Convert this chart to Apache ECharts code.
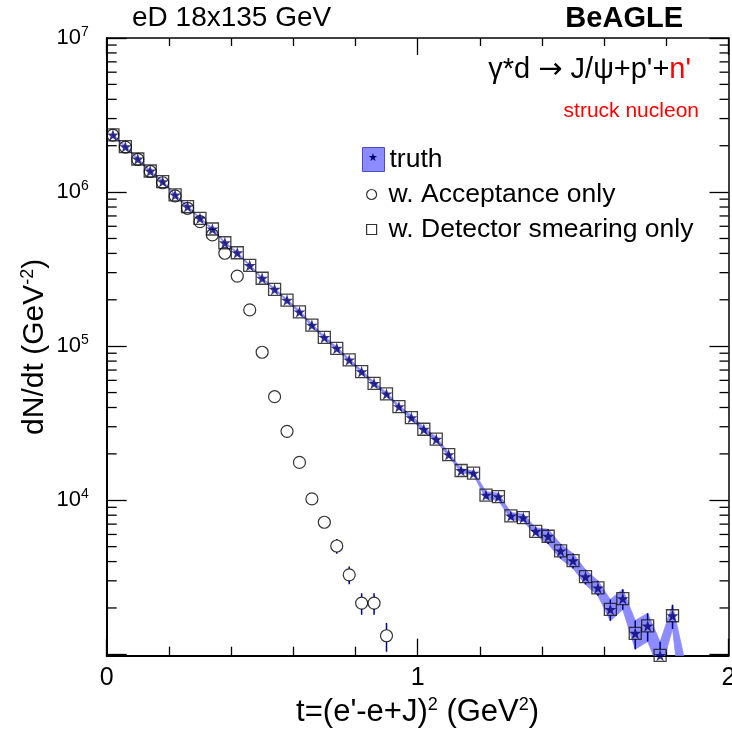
<!DOCTYPE html>
<html>
<head>
<meta charset="utf-8">
<script src="https://cdn.jsdelivr.net/npm/echarts@6/dist/echarts.min.js"></script>
<style>
html,body{margin:0;padding:0;background:#fff;overflow:hidden;}
#c{width:732px;height:734px;}
</style>
</head>
<body>
<div id="c"></div>
<script>
// ---- data ----
const tCenters = [0.02,0.06,0.10,0.14,0.18,0.22,0.26,0.30,0.34,0.38,0.42,0.46,0.50,0.54,0.58,0.62,0.66,0.70,0.74,0.78,0.82,0.86,0.90,0.94,0.98,1.02,1.06,1.10,1.14,1.18,1.22,1.26,1.30,1.34,1.38,1.42,1.46,1.50,1.54,1.58,1.62,1.66,1.70,1.74,1.78,1.82,1.86];
const truthVals = [2.35e6,1.97e6,1.64e6,1.37e6,1.17e6,9.58e5,8.04e5,6.76e5,5.76e5,4.69e5,4.04e5,3.34e5,2.76e5,2.34e5,1.99e5,1.67e5,1.37e5,1.14e5,9.69e4,8.14e4,6.83e4,5.74e4,4.90e4,4.05e4,3.44e4,2.89e4,2.49e4,1.98e4,1.56e4,1.50e4,1.08e4,1.055e4,7.91e3,7.71e3,6.29e3,5.84e3,4.69e3,4.06e3,3.19e3,2.70e3,1.96e3,2.30e3,1.37e3,1.53e3,985,1.78e3,600];
const truthErr = [28000,24000,20000,16000,14000,11500,9600,8100,6900,5600,4800,4000,3300,2800,2400,3300,2700,2300,1900,1600,1400,1150,980,810,1030,870,750,590,470,450,570,560,420,410,330,640,520,450,350,300,310,350,290,320,220,320,300];
const smearVals = [2.35e6,1.97e6,1.64e6,1.37e6,1.17e6,9.58e5,8.04e5,6.76e5,5.76e5,4.69e5,4.04e5,3.34e5,2.76e5,2.34e5,1.99e5,1.67e5,1.37e5,1.14e5,9.69e4,8.14e4,6.83e4,5.74e4,4.90e4,4.05e4,3.44e4,2.89e4,2.49e4,1.98e4,1.56e4,1.50e4,1.08e4,1.055e4,7.91e3,7.71e3,6.29e3,5.84e3,4.69e3,4.06e3,3.19e3,2.70e3,1.96e3,2.30e3,1.37e3,1.53e3,985,1.78e3,600];
const accVals = [2.34e6,1.96e6,1.63e6,1.36e6,1.15e6,9.45e5,7.85e5,6.43e5,5.27e5,4.01e5,2.85e5,1.72e5,9.13e4,4.70e4,2.80e4,1.76e4,1.02e4,7.20e3,5.05e3,3.28e3,2.15e3,2.15e3,1.32e3];
const accErr = [28000,24000,20000,16000,14000,11000,9400,7700,6300,4800,3400,2600,1800,1200,900,700,500,400,550,430,340,340,280];
const xTickLabels = ['0','1','2'];
const yDecadeExps = [4,5,6,7];
const yMinorMult = [2,3,4,5,6,7,8,9];
const yMinorDecades = [1e3,1e4,1e5,1e6];
const legendNames = ['truth','w. Acceptance only','w. Detector smearing only'];

const yMin = 980, yMax = 1e7;
const FONT = '"Liberation Sans", Arial, Helvetica, sans-serif';
const BAND = 'rgb(140,140,255)';
const NAVY = '#000070';
const STAR = 'path://M0,-1L0.2245,-0.309L0.951,-0.309L0.363,0.118L0.588,0.809L0,0.382L-0.588,0.809L-0.363,0.118L-0.951,-0.309L-0.2245,-0.309Z';

const truthData = tCenters.map((t,i)=>[t,truthVals[i]]);
const smearData = tCenters.map((t,i)=>[t,smearVals[i]]);
const accData = accVals.map((v,i)=>[tCenters[i],v]);
const minorTicks = [];
yMinorDecades.forEach(d=>yMinorMult.forEach(m=>minorTicks.push(d*m)));

function errBarRender(vals, errs, gap){
  return function(params, api){
    const i = params.dataIndex;
    const t = tCenters[i], v = vals[i], e = errs[i];
    const c = api.coord([t, v]);
    const hi = api.coord([t, v + e]);
    const lo = api.coord([t, Math.max(v - e, 1)]);
    const children = [];
    if (c[1] - gap > hi[1]) children.push({type:'line', shape:{x1:c[0],y1:hi[1],x2:c[0],y2:c[1]-gap}, style:{stroke:'#00008b', lineWidth:1.5}});
    if (lo[1] > c[1] + gap) children.push({type:'line', shape:{x1:c[0],y1:c[1]+gap,x2:c[0],y2:lo[1]}, style:{stroke:'#00008b', lineWidth:1.5}});
    return {type:'group', children};
  };
}

const sup = {fontSize:18, fontFamily:FONT, color:'#000', verticalAlign:'top', lineHeight:16};
const nameN = {fontSize:31, fontFamily:FONT, color:'#000', lineHeight:34};
const nameNY = {fontSize:30, fontFamily:FONT, color:'#000', lineHeight:33};
const legText = {fontSize:26.5, fontFamily:FONT, color:'#000', lineHeight:26};
const option = {
  animation:false,
  backgroundColor:'#fff',
  grid:{left:106.7, right:3.5, top:38, bottom:78.3, containLabel:false, outerBoundsMode:'none'},
  legend:[
    {data:[{name:legendNames[0], icon:'rect', itemStyle:{color:BAND, borderColor:'#4b4bc8', borderWidth:1}}],
     left:362, top:146, padding:0, itemWidth:22, itemHeight:24, selectedMode:false,
     textStyle:Object.assign({}, legText, {padding:[0,0,0,0]})},
    {data:[{name:legendNames[1], icon:'circle', itemStyle:{color:'rgba(0,0,0,0)', borderColor:'#000', borderWidth:1.2}}],
     left:366, top:181, padding:0, itemWidth:10, itemHeight:10, selectedMode:false,
     textStyle:Object.assign({}, legText, {padding:[0,0,0,7]})},
    {data:[{name:legendNames[2], icon:'rect', itemStyle:{color:'rgba(0,0,0,0)', borderColor:'#000', borderWidth:1.2}}],
     left:366, top:216, padding:0, itemWidth:10, itemHeight:10, selectedMode:false,
     textStyle:Object.assign({}, legText, {padding:[0,0,0,7]})}
  ],
  xAxis:[
    {type:'value', min:0, max:2, interval:1, position:'bottom',
     axisLine:{show:true, onZero:false, lineStyle:{color:'#000', width:2}},
     axisTick:{show:true, inside:true, length:17, lineStyle:{color:'#000', width:1.3}},
     minorTick:{show:true, splitNumber:5, length:9, lineStyle:{color:'#000', width:1.3}},
     splitLine:{show:false},
     axisLabel:{fontSize:25, fontFamily:FONT, color:'#000', margin:10, hideOverlap:false,
       formatter:(v)=>{const i=Math.round(v); return (Math.abs(v-i)<1e-6 && xTickLabels[i]!==undefined)?xTickLabels[i]:'';}},
     name:'{n|t=(e\'-e+J)}{s|2}{n| (GeV}{s|2}{n|)}', nameLocation:'middle', nameGap:40, nameMoveOverlap:false,
     nameTextStyle:{rich:{n:nameN, s:sup}}},
    {type:'value', min:0, max:2, interval:1, position:'top',
     axisLine:{show:true, onZero:false, lineStyle:{color:'#000', width:1.5}},
     axisTick:{show:true, inside:true, length:17, lineStyle:{color:'#000', width:1.3}},
     minorTick:{show:true, splitNumber:5, length:8, lineStyle:{color:'#000', width:1.3}},
     splitLine:{show:false}, axisLabel:{show:false}}
  ],
  yAxis:[
    {type:'log', logBase:10, min:yMin, max:yMax, position:'left',
     axisLine:{show:true, onZero:false, lineStyle:{color:'#000', width:2}},
     axisTick:{show:true, inside:true, length:20, lineStyle:{color:'#000', width:1.3}},
     splitLine:{show:false},
     axisLabel:{margin:18, fontFamily:FONT, color:'#000',
       formatter:(v)=>{const e=Math.log10(v); const r=Math.round(e); return (Math.abs(e-r)<1e-6 && yDecadeExps.indexOf(r)>=0)?('{n|10}{s|'+r+'}'):'';},
       rich:{n:{fontSize:22, fontFamily:FONT, color:'#000', lineHeight:26}, s:{fontSize:14, fontFamily:FONT, color:'#000', verticalAlign:'top', lineHeight:14}}},
     name:'{n|dN/dt (GeV}{s|-2}{n|)}', nameLocation:'middle', nameGap:55, nameRotate:90, nameMoveOverlap:false,
     nameTextStyle:{rich:{n:nameNY, s:sup}}},
    {type:'log', logBase:10, min:yMin, max:yMax, position:'right',
     axisLine:{show:true, onZero:false, lineStyle:{color:'#000', width:1.5}},
     axisTick:{show:true, inside:true, length:19, lineStyle:{color:'#000', width:1.3}},
     splitLine:{show:false}, axisLabel:{show:false}}
  ],
  series:[
    {type:'custom', name:'minorTicks', silent:true, data:minorTicks.map(v=>[0,v]), clip:false, z:1,
     renderItem:(params, api)=>{
       const v = minorTicks[params.dataIndex];
       const p = api.coord([0, v]), q = api.coord([2, v]);
       return {type:'group', children:[
         {type:'line', shape:{x1:p[0], y1:p[1], x2:p[0]+10, y2:p[1]}, style:{stroke:'#000', lineWidth:1.3}},
         {type:'line', shape:{x1:q[0]-9, y1:q[1], x2:q[0], y2:q[1]}, style:{stroke:'#000', lineWidth:1.3}}
       ]};
     }},
    {type:'custom', name:legendNames[0], silent:true, data:[[0,1]], clip:true, z:2,
     itemStyle:{color:BAND},
     renderItem:(params, api)=>{
       const up = [], dn = [];
       tCenters.forEach((t,i)=>{
         up.push(api.coord([t, truthVals[i] + truthErr[i]]));
         dn.push(api.coord([t, Math.max(truthVals[i] - truthErr[i], 10)]));
       });
       const pts = up.concat(dn.reverse());
       return {type:'polygon', shape:{points:pts}, style:{fill:BAND, stroke:BAND, lineWidth:0.8}};
     }},
    {type:'custom', name:'truthErr', silent:true, data:truthData, clip:true, z:3,
     renderItem:errBarRender(truthVals, truthErr, 6)},
    {type:'custom', name:'accErr', silent:true, data:accData, clip:true, z:3,
     renderItem:errBarRender(accVals, accErr, 6)},
    {type:'scatter', name:legendNames[1], data:accData, symbol:'circle', symbolSize:12, clip:true, z:4,
     itemStyle:{color:'rgba(0,0,0,0)', borderColor:'#000', borderWidth:1.2}},
    {type:'scatter', name:legendNames[2], data:smearData, symbol:'rect', symbolSize:12, clip:true, z:5,
     itemStyle:{color:'rgba(0,0,0,0)', borderColor:'#111', borderWidth:1.3}},
    {type:'scatter', name:'truthStars', data:truthData, symbol:STAR, symbolSize:12, clip:true, z:6,
     itemStyle:{color:NAVY}}
  ],
  graphic:[
    {type:'text', x:132, y:18.5, style:{text:'eD 18x135 GeV', fontSize:28, fontFamily:FONT, fill:'#000', align:'left', verticalAlign:'middle'}},
    {type:'text', x:683, y:18.5, style:{text:'BeAGLE', fontSize:29, fontWeight:'bold', fontFamily:FONT, fill:'#000', align:'right', verticalAlign:'middle'}},
    {type:'text', x:691, y:70, style:{text:'{a|γ*d }{ar|→}{a| J/ψ+p\'+}{r|n\'}', align:'right', verticalAlign:'middle',
      rich:{a:{fontSize:29, fontFamily:FONT, fill:'#000', color:'#000'},
            ar:{fontSize:29, fontFamily:'"DejaVu Sans", sans-serif', fill:'#000', color:'#000'},
            r:{fontSize:29, fontFamily:FONT, fill:'#ff0000', color:'#ff0000'}}}},
    {type:'text', x:699, y:111, style:{text:'struck nucleon', fontSize:21, fontFamily:FONT, fill:'#ff0000', align:'right', verticalAlign:'middle'}},
    {type:'text', x:373, y:158.5, z:100, style:{text:'★', fontSize:11, fontFamily:'"DejaVu Sans", sans-serif', fill:NAVY, align:'center', verticalAlign:'middle'}}
  ]
};
const chart = echarts.init(document.getElementById('c'), null, {renderer:'canvas'});
chart.setOption(option);
</script>
</body>
</html>
